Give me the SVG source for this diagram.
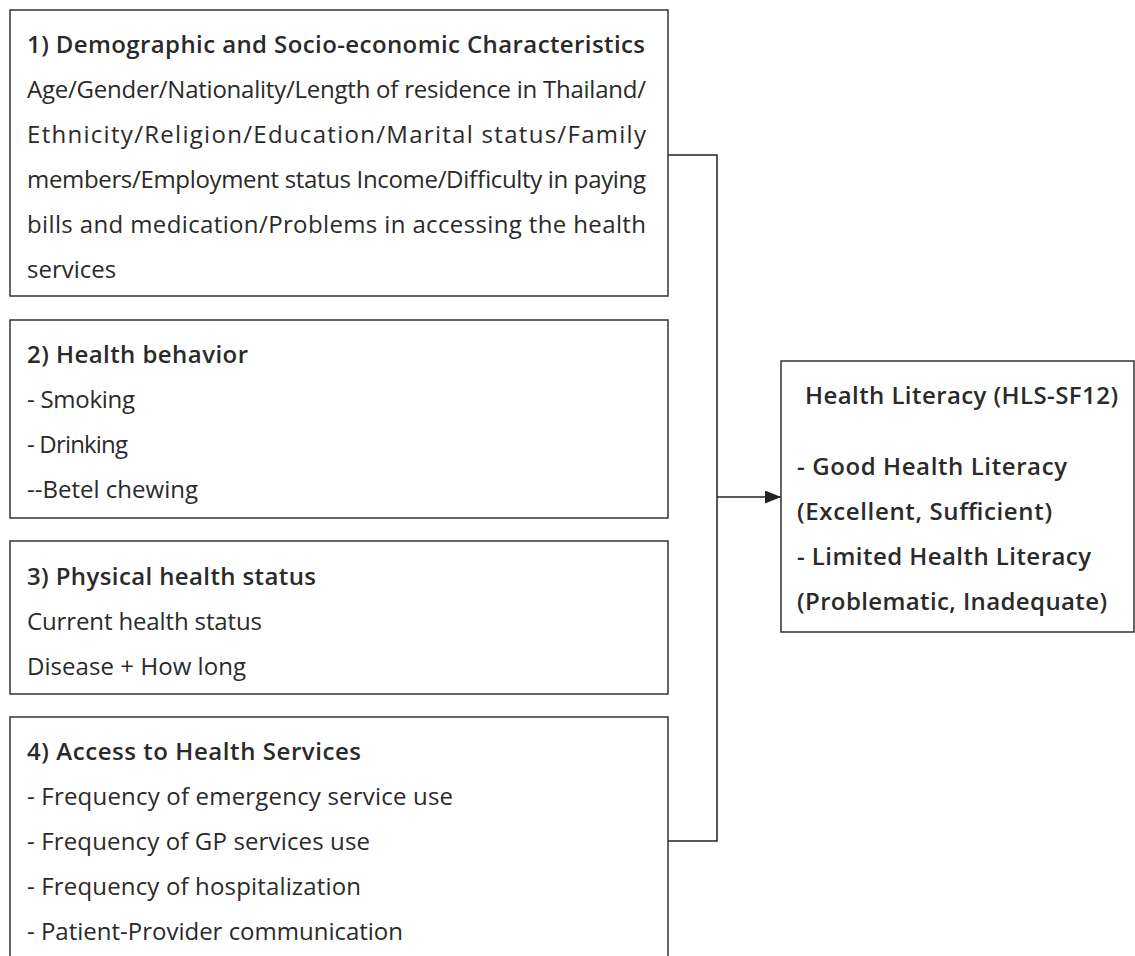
<svg xmlns="http://www.w3.org/2000/svg" width="1135" height="956" viewBox="0 0 1135 956">
<style>
.box{fill:#fff;stroke:#333;stroke-width:1.5}
.t{font-family:"Open Sans","Noto Sans",sans-serif;font-size:24px;fill:#2a2a2a}
.b{font-weight:600}
.c{fill:none;stroke:#222;stroke-width:1.5}
</style>
<defs>
<marker id="arr" markerWidth="16" markerHeight="13" refX="16" refY="6.5" orient="auto" markerUnits="userSpaceOnUse">
<path d="M0,0 L16,6.5 L0,13 Z" fill="#222"/>
</marker>
</defs>
<rect width="1135" height="956" fill="#fff"/>
<g id="connectors">
<polyline class="c" points="668,155 717,155 717,841 668,841"/>
<line class="c" x1="717" y1="497" x2="781" y2="497" marker-end="url(#arr)"/>
</g>
<g id="node1">
<rect class="box" x="10" y="10" width="658" height="286"/>
<text class="t b" x="27" y="53" textLength="618" lengthAdjust="spacing">1) Demographic and Socio-economic Characteristics</text>
<text class="t" x="27" y="98" textLength="619" lengthAdjust="spacing">Age/Gender/Nationality/Length of residence in Thailand/</text>
<text class="t" x="27" y="143" textLength="619" lengthAdjust="spacing">Ethnicity/Religion/Education/Marital status/Family</text>
<text class="t" x="27" y="188" textLength="619" lengthAdjust="spacing">members/Employment status Income/Difficulty in paying</text>
<text class="t" x="27" y="233" textLength="619" lengthAdjust="spacing">bills and medication/Problems in accessing the health</text>
<text class="t" x="27" y="278">services</text>
</g>
<g id="node2">
<rect class="box" x="10" y="320" width="658" height="198"/>
<text class="t b" x="27" y="363" textLength="221" lengthAdjust="spacing">2) Health behavior</text>
<text class="t" x="27" y="408" textLength="108" lengthAdjust="spacing">- Smoking</text>
<text class="t" x="27" y="453" textLength="101" lengthAdjust="spacing">- Drinking</text>
<text class="t" x="27" y="498" textLength="171" lengthAdjust="spacing">--Betel chewing</text>
</g>
<g id="node3">
<rect class="box" x="10" y="541" width="658" height="153"/>
<text class="t b" x="27" y="585" textLength="289" lengthAdjust="spacing">3) Physical health status</text>
<text class="t" x="27" y="630" textLength="235" lengthAdjust="spacing">Current health status</text>
<text class="t" x="27" y="675" textLength="219" lengthAdjust="spacing">Disease + How long</text>
</g>
<g id="node4">
<rect class="box" x="10" y="717" width="658" height="260"/>
<text class="t b" x="27" y="760" textLength="334" lengthAdjust="spacing">4) Access to Health Services</text>
<text class="t" x="27" y="805" textLength="426" lengthAdjust="spacing">- Frequency of emergency service use</text>
<text class="t" x="27" y="850" textLength="343" lengthAdjust="spacing">- Frequency of GP services use</text>
<text class="t" x="27" y="895" textLength="334" lengthAdjust="spacing">- Frequency of hospitalization</text>
<text class="t" x="27" y="940" textLength="376" lengthAdjust="spacing">- Patient-Provider communication</text>
</g>
<g id="outcome">
<rect class="box" x="781" y="361" width="353" height="271"/>
<text class="t b" x="805" y="404" textLength="313" lengthAdjust="spacing">Health Literacy (HLS-SF12)</text>
<text class="t b" x="797" y="475" textLength="270" lengthAdjust="spacing">- Good Health Literacy</text>
<text class="t b" x="797" y="520" textLength="255" lengthAdjust="spacing">(Excellent, Sufficient)</text>
<text class="t b" x="797" y="565" textLength="294" lengthAdjust="spacing">- Limited Health Literacy</text>
<text class="t b" x="797" y="610" textLength="310" lengthAdjust="spacing">(Problematic, Inadequate)</text>
</g>
</svg>
